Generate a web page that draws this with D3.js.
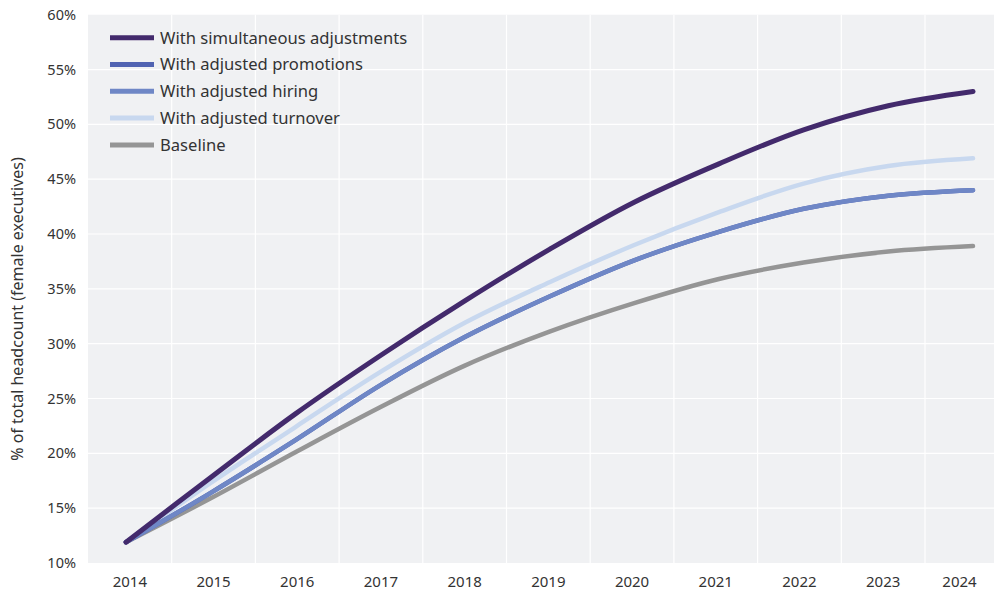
<!DOCTYPE html>
<html>
<head>
<meta charset="utf-8">
<script src="https://cdn.jsdelivr.net/npm/d3@7"></script>
<style>
  html, body { margin: 0; padding: 0; background: #ffffff; }
  svg { display: block; }
  text { font-family: "Noto Sans", "Open Sans", sans-serif; fill: #333333; }
</style>
</head>
<body>
<svg id="chart" width="994" height="596"></svg>
<script>
// ---- data ----
const years = [2014, 2015, 2016, 2017, 2018, 2019, 2020, 2021, 2022, 2023, 2024];
const simultaneous = [11.9, 17.8, 23.6, 28.9, 33.9, 38.6, 42.9, 46.4, 49.5, 51.7, 53.0];
const promotions   = [11.9, 16.4, 21.2, 26.2, 30.6, 34.3, 37.6, 40.2, 42.3, 43.5, 44.0];
const hiring       = [11.9, 16.4, 21.2, 26.2, 30.6, 34.3, 37.6, 40.2, 42.3, 43.5, 44.0];
const turnover     = [11.9, 17.3, 22.4, 27.4, 31.9, 35.6, 39.0, 42.0, 44.6, 46.2, 46.9];
const baseline     = [11.9, 15.9, 20.1, 24.2, 28.0, 31.1, 33.7, 35.9, 37.4, 38.4, 38.9];
const yTicks = [10, 15, 20, 25, 30, 35, 40, 45, 50, 55, 60];
const seriesNames = ["With simultaneous adjustments", "With adjusted promotions", "With adjusted hiring", "With adjusted turnover", "Baseline"];
const seriesColors = ["#432a6c", "#5163b2", "#6f87c6", "#c8d8ef", "#959595"];
const seriesValues = [simultaneous, promotions, hiring, turnover, baseline];
const yTitle = "% of total headcount (female executives)";

// ---- layout ----
const svg = d3.select("#chart");
const plot = { left: 88, right: 994, top: 14.7, bottom: 563 };

const yearW = 83.7;
const xCal = d3.scaleLinear().domain([2014, 2025]).range([plot.left, plot.left + 11 * yearW]);
const xLine = d3.scaleLinear().domain([2014, 2024]).range([126, 973]);
const y = d3.scaleLinear().domain([10, 60]).range([plot.bottom, plot.top]);

svg.append("rect")
  .attr("x", plot.left).attr("y", plot.top)
  .attr("width", plot.right - plot.left).attr("height", plot.bottom - plot.top)
  .attr("fill", "#f0f1f3");

const g = svg.append("g");
g.selectAll("line.hg").data(yTicks.slice(1, -1)).join("line")
  .attr("x1", plot.left).attr("x2", plot.right)
  .attr("y1", d => y(d)).attr("y2", d => y(d))
  .attr("stroke", "#ffffff").attr("stroke-width", 1.2);
g.selectAll("line.vg").data(years.slice(1)).join("line")
  .attr("x1", d => xCal(d)).attr("x2", d => xCal(d))
  .attr("y1", plot.top).attr("y2", plot.bottom)
  .attr("stroke", "#ffffff").attr("stroke-width", 1.2);

svg.selectAll("text.yt").data(yTicks).join("text")
  .attr("x", 76).attr("y", d => y(d))
  .attr("dy", "0.35em").attr("text-anchor", "end")
  .style("font-size", "14.5px")
  .text(d => d + "%");

svg.selectAll("text.xt").data(years).join("text")
  .attr("x", d => (xCal(d) + Math.min(xCal(d + 1), plot.right)) / 2)
  .attr("y", 587)
  .attr("text-anchor", "middle")
  .style("font-size", "15px")
  .text(d => d);

svg.append("text")
  .attr("transform", "translate(23,309) rotate(-90)")
  .attr("text-anchor", "middle")
  .style("font-size", "16px")
  .text(yTitle);

const line = d3.line()
  .x((d, i) => xLine(years[i]))
  .y(d => y(d))
  .curve(d3.curveCatmullRom.alpha(0.5));

const drawOrder = [4, 3, 1, 2, 0];
drawOrder.forEach(k => {
  svg.append("path")
    .datum(seriesValues[k])
    .attr("d", line)
    .attr("fill", "none")
    .attr("stroke", seriesColors[k])
    .attr("stroke-width", k === 0 ? 5 : 4.5)
    .attr("stroke-linecap", "round")
    .attr("stroke-linejoin", "round");
});

const leg = svg.append("g");
seriesNames.forEach((name, i) => {
  const ly = 37.7 + i * 26.8;
  leg.append("line")
    .attr("x1", 110).attr("x2", 154)
    .attr("y1", ly).attr("y2", ly)
    .attr("stroke", seriesColors[i]).attr("stroke-width", 5);
  leg.append("text")
    .attr("x", 160).attr("y", ly)
    .attr("dy", "0.35em")
    .style("font-size", "16.6px")
    .text(name);
});
</script>
</body>
</html>
